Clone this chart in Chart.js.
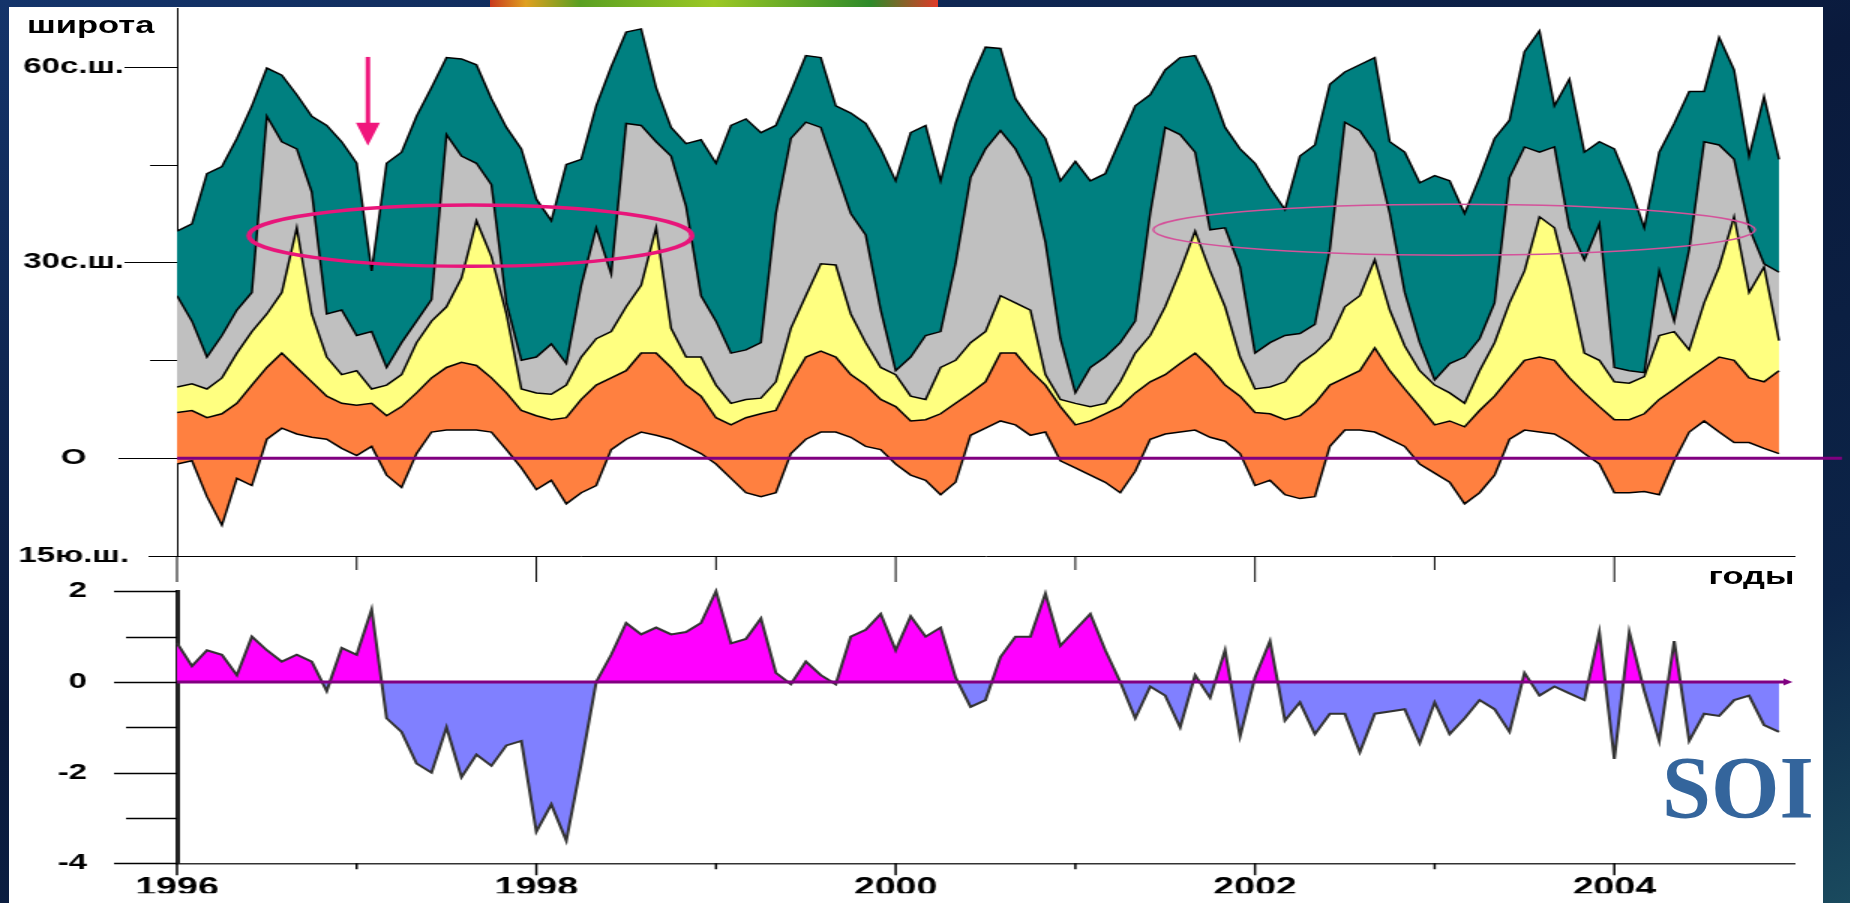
<!DOCTYPE html>
<html>
<head>
<meta charset="utf-8">
<script src="https://cdn.jsdelivr.net/npm/chart.js"></script>
<style>
  html, body { margin: 0; padding: 0; }
  body {
    width: 1850px; height: 903px; overflow: hidden; position: relative;
    background: linear-gradient(160deg, #14346a 0%, #0a1a3c 45%, #0c2448 80%, #1a4a5e 100%);
    font-family: 'Liberation Sans', Arial, sans-serif;
  }
  #strip { position: absolute; left: 490px; top: 0; width: 448px; height: 7px;
    background: linear-gradient(90deg, #c83a1e, #e0a020 8%, #5aa022 20%, #9cc824 50%, #2e8a2a 85%, #e03a28); }
  #panel { position: absolute; left: 9px; top: 7px; width: 1814px; height: 896px; background: #fff; }
  /* the original chart picture is stretched 1.5x horizontally */
  #stage { position: absolute; left: 0; top: 0; width: 1234px; height: 903px;
    transform: scaleX(1.5); transform-origin: 0 0; }
  #topChart { position: absolute; left: 0; top: 0; }
  #soiChart { position: absolute; left: 0; top: 560px; }
  .lbl { position: absolute; font-weight: bold; font-size: 23px; line-height: 1; color: #000; white-space: nowrap; }
  #soi { position: absolute; left: 1662px; top: 744px; font-family: 'Liberation Serif', 'Times New Roman', serif;
    font-weight: bold; font-size: 88px; line-height: 1; color: #34659c; }
</style>
</head>
<body>
<div id="strip"></div>
<div id="panel"></div>
<div id="stage">
  <canvas id="topChart" width="1234" height="600"></canvas>
  <canvas id="soiChart" width="1234" height="343"></canvas>
  <div class="lbl" style="left:18px; top:14px;">широта</div>
  <div class="lbl" style="left:1139px; top:565px;">годы</div>
</div>
<div id="soi">SOI</div>

<script>
// monthly values, Jan 1996 .. Dec 2004 (index 0..107)
// band edges in degrees of latitude (south negative)
const lat1 = [ // lower edge of orange band
  -0.9, -0.4, -5.9, -10.3, -3.1, -4.2, 2.9, 4.6, 3.7, 3.2, 2.9, 1.5,
  0.4, 1.8, -2.6, -4.5, 0.7, 4, 4.3, 4.3, 4.3, 4, 1.3, -1.5,
  -4.8, -3.4, -7, -5.3, -4.2, 1.3, 2.9, 4, 3.5, 2.9, 1.8, 0.7,
  -0.9, -3.1, -5.3, -5.9, -5.3, 0.7, 2.9, 4, 4, 3.2, 1.8, 1.3,
  -0.9, -2.6, -3.4, -5.6, -3.7, 3.5, 4.6, 5.7, 5.1, 3.5, 4, -0.4,
  -1.5, -2.6, -3.7, -5.3, -2, 2.9, 3.7, 4, 4.3, 3.2, 2.6, 0.7,
  -4.2, -3.4, -5.6, -6.2, -5.9, 1.8, 4.3, 4.3, 4, 2.9, 1.8, -0.9,
  -2.3, -3.7, -7, -5.3, -2.6, 2.9, 4.3, 4, 3.7, 2.4, 0.7, -0.9,
  -5.3, -5.3, -5.1, -5.6, -0.4, 4, 5.7, 4, 2.4, 2.4, 1.5, 0.7
];
const lat2 = [ // orange / yellow
  7, 7.3, 6.2, 6.8, 8.4, 11.2, 13.9, 16.1, 13.9, 11.7, 9.5, 8.4,
  8.1, 8.4, 6.5, 7.9, 10, 12.3, 13.9, 14.7, 14.2, 12.3, 10, 7.3,
  6.5, 5.9, 6.2, 9, 11.2, 12.3, 13.4, 16.1, 16.1, 13.9, 11.2, 9.5,
  6.2, 5.1, 6.2, 6.8, 7.3, 11.7, 15.5, 16.4, 15.5, 12.8, 11.2, 9,
  7.9, 5.7, 5.9, 6.8, 8.4, 10, 11.7, 16.1, 16.1, 13.4, 11.2, 7.9,
  5.1, 5.7, 6.8, 7.9, 10, 11.7, 12.8, 14.5, 16.1, 13.9, 11.2, 9.5,
  7, 6.8, 5.9, 6.5, 8.4, 11.2, 12.3, 13.4, 16.9, 13.4, 10.6, 7.9,
  5.1, 5.7, 4.8, 7.3, 9.5, 12.3, 15, 15.5, 15, 12.3, 10, 7.9,
  5.9, 5.9, 6.8, 9, 10.6, 12.3, 13.9, 15.5, 15, 12.3, 11.7, 13.4
];
const lat3 = [ // yellow / grey
  10.9, 11.4, 10.6, 12.3, 16.1, 19.4, 22.1, 25.4, 35.3, 22.1, 15.5, 12.8,
  13.4, 10.6, 11.2, 12.8, 17.7, 21, 23.2, 27.6, 36.4, 30.9, 22.1, 10.6,
  10, 9.8, 11.2, 15.5, 18.3, 19.4, 23.2, 26.5, 35.3, 19.9, 15.5, 15.5,
  11.2, 8.4, 9, 9.2, 11.7, 19.9, 24.9, 29.8, 29.6, 22.1, 17.7, 13.9,
  12.8, 9.5, 9, 13.9, 15, 17.7, 19.4, 24.9, 23.8, 22.7, 12.8, 9,
  8.4, 7.9, 8.4, 11.7, 16.1, 18.8, 23.2, 28.7, 34.8, 28.7, 23.2, 15.5,
  10.6, 10.9, 11.7, 14.5, 16.1, 18.3, 23.2, 24.9, 30.4, 22.7, 17.2, 13.4,
  11.2, 10, 8.4, 13.4, 17.7, 23.8, 28.7, 37, 35.3, 26.5, 16.1, 15,
  11.7, 11.5, 12.5, 18.8, 19.4, 16.6, 23.8, 29.3, 37, 25.4, 29.3, 18
];
const lat4 = [ // grey / teal
  24.9, 21, 15.5, 18.8, 22.7, 25.4, 52.4, 48.5, 47.4, 40.8, 22.1, 22.7,
  18.8, 19.4, 13.9, 17.7, 21, 24.3, 49.6, 46.3, 45.2, 41.9, 23.8, 15,
  15.5, 17.5, 14.5, 26.5, 35.3, 28.2, 51.3, 51, 48.5, 46.3, 38.6, 24.9,
  21, 16.1, 16.6, 17.7, 37.5, 49, 51.5, 50.7, 44.1, 37.5, 34.2, 22.7,
  13.4, 15.5, 18.8, 19.4, 29.8, 43, 47.4, 50.2, 47.4, 43, 33.1, 18.3,
  10, 13.9, 15.5, 17.7, 21, 37.5, 50.7, 49.6, 46.9, 35, 35.3, 29.3,
  16.1, 17.7, 18.8, 19.1, 20.5, 32, 51.5, 50.2, 46.9, 37.5, 25.4, 17.7,
  12, 14.5, 15.5, 18.3, 23.8, 43, 47.7, 46.9, 47.7, 35.3, 30.4, 35.9,
  13.9, 13.4, 13.1, 28.7, 21, 32, 48.5, 48, 45.8, 35.3, 29.8, 28.5
];
const lat5 = [ // upper edge of teal band
  34.8, 35.9, 43.6, 44.7, 49, 54, 59.8, 58.7, 55.7, 52.4, 51, 48.5,
  45.2, 28.7, 45.2, 46.9, 52.4, 56.8, 61.4, 61.2, 60.3, 55.1, 50.7, 47.4,
  39.7, 36.4, 45, 45.8, 54, 60, 65.3, 65.8, 56.8, 50.7, 48.2, 48.8,
  45.2, 51, 52, 49.9, 51, 56.2, 61.7, 61.4, 54, 52.9, 51.3, 47.4,
  42.5, 49.9, 51, 42.5, 51.3, 57.9, 63, 62.8, 55.1, 51.8, 49, 42.5,
  45.5, 42.5, 43.6, 48.8, 54, 55.7, 59.5, 61.4, 61.7, 57, 50.7, 47.4,
  45.2, 41.4, 38.1, 46.3, 48, 57.3, 59.2, 60.3, 61.4, 48.5, 46.9, 42.2,
  43.3, 42.5, 37.5, 43, 49, 51.8, 62.3, 65.5, 54, 58.1, 46.9, 48.5,
  47.4, 41.9, 35.3, 46.9, 51.3, 56.2, 56.2, 64.5, 59.5, 46.3, 55.4, 45.8
];
const soi = [
  0.86, 0.35, 0.7, 0.6, 0.15, 1.0, 0.7, 0.45, 0.6, 0.45, -0.2, 0.75,
  0.6, 1.6, -0.8, -1.1, -1.8, -2.0, -1.0, -2.1, -1.6, -1.85, -1.4, -1.3,
  -3.3, -2.7, -3.5, -1.8, 0.0, 0.6, 1.3, 1.05, 1.2, 1.05, 1.1, 1.3,
  2.0, 0.85, 0.95, 1.4, 0.2, -0.05, 0.45, 0.15, -0.05, 1.0, 1.15, 1.5,
  0.7, 1.45, 1.0, 1.2, 0.1, -0.55, -0.4, 0.55, 1.0, 1.0, 1.95, 0.8,
  1.15, 1.5, 0.7, 0.0, -0.8, -0.1, -0.3, -1.0, 0.15, -0.35, 0.7, -1.2,
  0.1, 0.9, -0.85, -0.45, -1.15, -0.7, -0.7, -1.55, -0.7, -0.65, -0.6, -1.35,
  -0.45, -1.15, -0.8, -0.4, -0.6, -1.1, 0.2, -0.3, -0.1, -0.25, -0.4, 1.1,
  -1.7, 1.1, -0.2, -1.3, 0.9, -1.3, -0.7, -0.75, -0.4, -0.3, -0.95, -1.1
];

// axes
const yearTicks = [0, 12, 24, 36, 48, 60, 72, 84, 96];          // month index of each January
const yearLabels = ['1996', '', '1998', '', '2000', '', '2002', '', '2004'];
const latTicks = [-15, 0, 15, 30, 45, 60];
const latLabels = ['15ю.ш.', 'О', '', '30с.ш.', '', '60с.ш.'];
const soiTicks = [-4, -3, -2, -1, 0, 1, 2];
const soiLabels = ['-4', '', '-2', '', '0', '', '2'];
const zeroTopEnd = 111.2;   // purple equator line runs past the last month
const zeroSoiEnd = 107.5;

const FONT = "'Liberation Sans', Arial, sans-serif";
const toXY = arr => arr.map((v, i) => ({ x: i, y: v }));

// tick marks of different length, placed through the chart scales
function tickMarks(xLen, yLen, lineW) {
  return {
    id: 'tickMarks',
    afterDraw(chart) {
      const { ctx, chartArea: a, scales: { x, y } } = chart;
      ctx.save();
      ctx.strokeStyle = '#000';
      ctx.lineWidth = lineW;
      ctx.beginPath();
      y.ticks.forEach(t => {
        const py = Math.round(y.getPixelForValue(t.value)) + 0.5;
        ctx.moveTo(a.left - yLen(t.value), py);
        ctx.lineTo(a.left, py);
      });
      yearTicks.forEach(v => {
        const px = x.getPixelForValue(v);
        ctx.moveTo(px, a.bottom);
        ctx.lineTo(px, a.bottom + xLen(v));
      });
      ctx.stroke();
      ctx.restore();
    }
  };
}

// ellipses and arrow drawn on the original slide
const highlights = {
  id: 'highlights',
  afterDatasetsDraw(chart) {
    const { ctx, scales: { x, y } } = chart;
    ctx.save();
    [
      { cx: 19.6, cy: 34.1, rx: 14.8, ry: 4.7, color: '#e8157a', w: 3.5 },
      { cx: 85.3, cy: 35.0, rx: 20.1, ry: 3.9, color: '#d4529a', w: 1.5 }
    ].forEach(e => {
      const px = x.getPixelForValue(e.cx), py = y.getPixelForValue(e.cy);
      const rx = x.getPixelForValue(e.cx + e.rx) - px;
      const ry = py - y.getPixelForValue(e.cy + e.ry);
      ctx.beginPath();
      ctx.ellipse(px, py, rx, ry, 0, 0, Math.PI * 2);
      ctx.strokeStyle = e.color;
      ctx.lineWidth = e.w;
      ctx.stroke();
    });
    const ax = x.getPixelForValue(12.75);
    const yTop = y.getPixelForValue(61.5), yHead = y.getPixelForValue(51.4), yTip = y.getPixelForValue(47.9);
    ctx.strokeStyle = '#f0167c';
    ctx.fillStyle = '#f0167c';
    ctx.lineWidth = 3;
    ctx.beginPath();
    ctx.moveTo(ax, yTop);
    ctx.lineTo(ax, yHead + 2);
    ctx.stroke();
    ctx.beginPath();
    ctx.moveTo(ax - 8, yHead);
    ctx.lineTo(ax + 8, yHead);
    ctx.lineTo(ax, yTip);
    ctx.closePath();
    ctx.fill();
    ctx.restore();
  }
};

const band = (arr, fill, color) => ({
  data: toXY(arr),
  borderColor: '#000',
  borderWidth: 1.5,
  backgroundColor: color || 'transparent',
  fill: fill,
  pointRadius: 0,
  tension: 0
});

const zeroLine = end => ({
  data: [{ x: 0, y: 0 }, { x: end, y: 0 }],
  borderColor: '#800080',
  borderWidth: 3,
  pointRadius: [0, 4],
  pointStyle: 'triangle',
  rotation: 90,
  pointBackgroundColor: '#800080',
  pointBorderWidth: 0,
  fill: false,
  clip: false
});

const noGrid = { display: false, drawTicks: false };
// fixed axis box; drop the extra label padding Chart.js adds above/below a vertical axis
const fixY = s => { s.width = 114; s.paddingTop = 0; s.paddingBottom = 0; };
// latitude tick lengths: labelled ones longer, the equator longest
const latTickLen = v => (v === 0 ? 39 : v === -15 ? 19 : v % 30 === 0 ? 35 : 18);

new Chart(document.getElementById('topChart'), {
  type: 'line',
  data: {
    datasets: [
      zeroLine(zeroTopEnd),
      band(lat1, false, null),
      band(lat2, '-1', '#ff8040'),
      band(lat3, '-1', '#ffff80'),
      band(lat4, '-1', '#c0c0c0'),
      band(lat5, '-1', '#008080')
    ]
  },
  options: {
    responsive: false,
    animation: false,
    layout: { padding: { left: 4, right: 38, top: 8, bottom: 14 } },
    plugins: { legend: { display: false }, tooltip: { enabled: false } },
    scales: {
      x: {
        type: 'linear', min: 0, max: 108,
        grid: noGrid,
        border: { display: true, color: '#000', width: 1 },
        ticks: { display: false },
        afterFit: s => { s.height = 30; }
      },
      y: {
        min: -15, max: 69,
        grid: noGrid,
        border: { display: true, color: '#000', width: 1 },
        afterBuildTicks: s => { s.ticks = latTicks.map(v => ({ value: v })); },
        ticks: {
          crossAlign: 'center', padding: 32, color: '#000',
          font: { family: FONT, size: 22, weight: 'bold' },
          callback: v => latLabels[latTicks.indexOf(v)] || ''
        },
        afterFit: fixY
      }
    }
  },
  plugins: [
    highlights,
    tickMarks(v => (v % 24 === 0 ? 26 : 14), latTickLen, 1)
  ]
});

new Chart(document.getElementById('soiChart'), {
  type: 'line',
  data: {
    datasets: [
      zeroLine(zeroSoiEnd),
      {
        data: toXY(soi),
        borderColor: '#333',
        borderWidth: 2,
        pointRadius: 0,
        tension: 0,
        fill: { target: 'origin', above: '#ff00ff', below: '#8080ff' },
        clip: 6
      }
    ]
  },
  options: {
    responsive: false,
    animation: false,
    layout: { padding: { left: 4, right: 38, top: 31.3, bottom: 9.7 } },
    plugins: { legend: { display: false }, tooltip: { enabled: false } },
    scales: {
      x: {
        type: 'linear', min: 0, max: 108,
        grid: noGrid,
        border: { display: true, color: '#333', width: 1.5 },
        afterBuildTicks: s => { s.ticks = yearTicks.map(v => ({ value: v })); },
        ticks: {
          autoSkip: false, maxRotation: 0, padding: 10, color: '#000',
          font: { family: FONT, size: 25, weight: 'bold' },
          callback: v => yearLabels[yearTicks.indexOf(v)] || ''
        },
        afterFit: s => { s.height = 30; }
      },
      y: {
        min: -4, max: 2,
        grid: noGrid,
        border: { display: true, color: '#222', width: 3 },
        afterBuildTicks: s => { s.ticks = soiTicks.map(v => ({ value: v })); },
        ticks: {
          crossAlign: 'near', padding: 60, color: '#000',
          font: { family: FONT, size: 22, weight: 'bold' },
          callback: v => soiLabels[soiTicks.indexOf(v)] || ''
        },
        afterFit: fixY
      }
    }
  },
  plugins: [
    tickMarks(v => (v % 24 === 0 ? 12 : 6), v => (v % 2 === 0 ? 42 : 34), 1.5)
  ]
});
</script>
</body>
</html>
